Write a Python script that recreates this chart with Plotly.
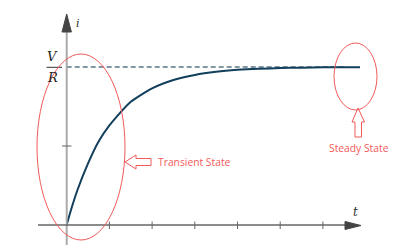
import plotly.graph_objects as go

# Data (t in units of the tick spacing, i in units of V/R)
t_vals = [0, 0.1, 0.25, 0.5, 0.75, 1.0, 1.25, 1.5, 2.0, 2.5, 3.0, 3.5, 4.0, 4.5, 5.0, 5.5, 6.0, 6.87]
i_vals = [0, 0.095, 0.22, 0.39, 0.53, 0.63, 0.71, 0.78, 0.865, 0.918, 0.95, 0.97, 0.982, 0.989, 0.993, 0.996, 0.998, 0.999]
x_ticks = [1, 2, 3, 4, 5, 6]
y_ticks = [0.5]
steady_level = 1.0
steady_end = 6.5

# pixel geometry helpers (layout only)
W, H = 400, 250
OX, OY = 66.7, 225.0
UX, UY = 42.7, 158.0
X_RANGE = [-OX / UX, (W - OX) / UX]
Y_RANGE = [(OY - H) / UY, OY / UY]


def dx(px):
    return (px - OX) / UX


def dy(py):
    return (OY - py) / UY


def path(points):
    s = "M " + " L ".join(f"{dx(x):.4f},{dy(y):.4f}" for x, y in points) + " Z"
    return s


RED = "#f25a5a"
AXIS = "#666666"

fig = go.Figure()

# dashed steady level
fig.add_trace(go.Scatter(x=[0, steady_end], y=[steady_level, steady_level], mode="lines",
                         line=dict(color="#5a7585", width=1.4, dash="5px,3px"), hoverinfo="skip"))
# current curve
fig.add_trace(go.Scatter(x=t_vals, y=i_vals, mode="lines",
                         line=dict(color="#123f5c", width=2, shape="spline", smoothing=0.6),
                         hoverinfo="skip"))

shapes = []
# y axis (light gray)
shapes.append(dict(type="line", xref="x", yref="y", x0=0, x1=0, y0=dy(245), y1=dy(30),
                   line=dict(color="#aaaaaa", width=2)))
# x axis
shapes.append(dict(type="line", xref="x", yref="y", x0=dx(38), x1=dx(347), y0=0, y1=0,
                   line=dict(color=AXIS, width=1.5)))
# arrow heads
shapes.append(dict(type="path", xref="x", yref="y",
                   path=path([(66.7, 14), (62, 32), (71.4, 32)]),
                   fillcolor="#444444", line=dict(color="#444444", width=1)))
shapes.append(dict(type="path", xref="x", yref="y",
                   path=path([(361, 225.5), (345, 221.5), (345, 229.5)]),
                   fillcolor="#444444", line=dict(color="#444444", width=1)))
# ticks
for xt in x_ticks:
    shapes.append(dict(type="line", xref="x", yref="y", x0=xt, x1=xt, y0=dy(221.5), y1=dy(229),
                       line=dict(color=AXIS, width=1)))
for yt in y_ticks:
    shapes.append(dict(type="line", xref="x", yref="y", x0=dx(62), x1=dx(71.5), y0=yt, y1=yt,
                       line=dict(color=AXIS, width=1)))
# fraction bar of V/R
shapes.append(dict(type="line", xref="x", yref="y", x0=dx(46.5), x1=dx(62), y0=dy(67.3), y1=dy(67.3),
                   line=dict(color="#333333", width=1)))
# ellipses
shapes.append(dict(type="circle", xref="x", yref="y", x0=dx(37), x1=dx(125), y0=dy(240), y1=dy(54),
                   line=dict(color=RED, width=1)))
shapes.append(dict(type="circle", xref="x", yref="y", x0=dx(334), x1=dx(377), y0=dy(110), y1=dy(43),
                   line=dict(color=RED, width=1)))
# hollow arrows
shapes.append(dict(type="path", xref="x", yref="y",
                   path=path([(125, 162), (136, 155), (136, 158.5), (151, 158.5), (151, 165.5),
                              (136, 165.5), (136, 169)]),
                   line=dict(color=RED, width=1), fillcolor="rgba(0,0,0,0)"))
shapes.append(dict(type="path", xref="x", yref="y",
                   path=path([(358, 108), (364.5, 122), (361.5, 122), (361.5, 137), (355, 137),
                              (355, 122), (352, 122)]),
                   line=dict(color=RED, width=1), fillcolor="rgba(0,0,0,0)"))

SERIF = "DejaVu Serif"
ann = [
    dict(x=dx(52.5), y=dy(56), text="<i>V</i>", font=dict(family=SERIF, size=13, color="#222")),
    dict(x=dx(52), y=dy(77), text="<i>R</i>", font=dict(family=SERIF, size=13, color="#222")),
    dict(x=dx(77.5), y=dy(23), text="<i>i</i>", font=dict(family=SERIF, size=11, color="#333")),
    dict(x=dx(355), y=dy(212), text="<i>t</i>", font=dict(family=SERIF, size=12, color="#333")),
    dict(x=dx(156), y=dy(162), text="Transient State", xanchor="left",
         font=dict(family="Open Sans", size=10.3, color=RED)),
    dict(x=dx(358.5), y=dy(148), text="Steady State",
         font=dict(family="Open Sans", size=10.3, color=RED)),
]
for a in ann:
    a.update(xref="x", yref="y", showarrow=False)
    a.setdefault("xanchor", "center")
    a.setdefault("yanchor", "middle")

fig.update_layout(
    width=W, height=H, margin=dict(l=0, r=0, t=0, b=0),
    paper_bgcolor="white", plot_bgcolor="white",
    showlegend=False, shapes=shapes, annotations=ann,
    xaxis=dict(range=X_RANGE, visible=False, fixedrange=True),
    yaxis=dict(range=Y_RANGE, visible=False, fixedrange=True),
)

fig.write_html("out.html")
